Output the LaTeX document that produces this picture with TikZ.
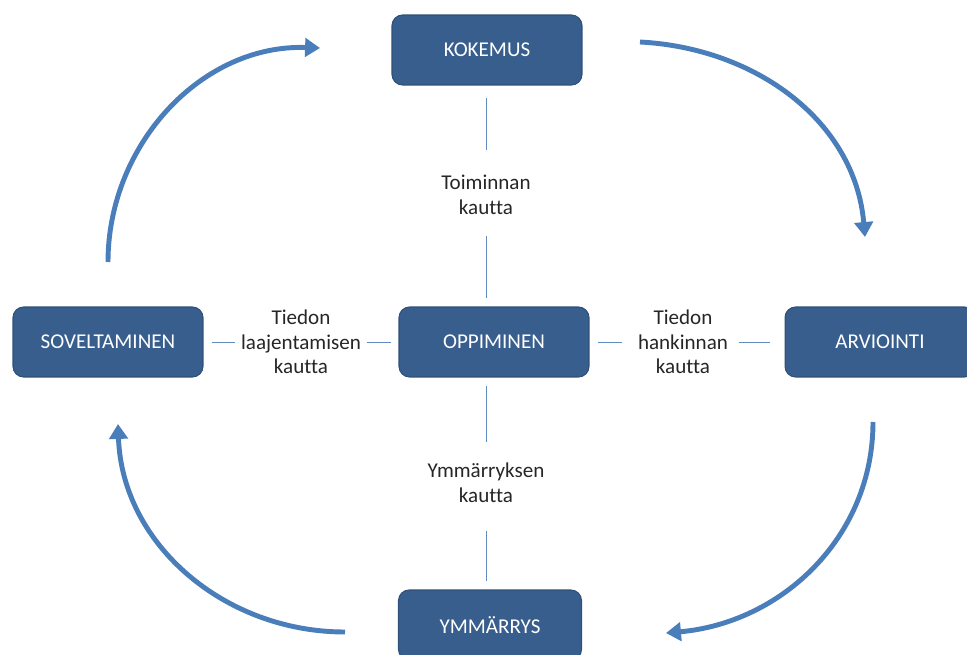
\documentclass[tikz,border=0pt]{standalone}
\usepackage{fontspec}
\setmainfont{Carlito}[Ligatures={NoCommon}]
\usetikzlibrary{arrows.meta, positioning}

\definecolor{boxblue}{HTML}{375E8D}
\definecolor{arrowblue}{HTML}{4A7EBB}
\definecolor{linkblue}{HTML}{5F8BC0}

\begin{document}
\begin{tikzpicture}[
    x=0.02cm, y=-0.02cm,
    font=\fontsize{12}{14}\selectfont,
    phase/.style={draw=boxblue!85!black, rectangle, rounded corners=6pt,
        minimum width=3.8cm, minimum height=1.4cm, fill=boxblue,
        text=white, line width=0.6pt},
    via/.style={align=center, text=black!85, inner sep=0pt},
    link/.style={draw=linkblue, line width=0.5pt},
    cycle/.style={draw=arrowblue, line width=2.8pt,
        -{Triangle[length=8.5pt,width=10.5pt]}},
]
\useasboundingbox (0,0) rectangle (967,655);

% === Phases ===
\node[phase] (kok) at (487, 50) {KOKEMUS};
\node[phase] (sov) at (108, 342) {SOVELTAMINEN};
\node[phase] (opp) at (494, 342) {OPPIMINEN};
\node[phase] (arv) at (880, 342) {ARVIOINTI};
\node[phase, minimum width=3.66cm] (ymm) at (490, 625) {YMMÄRRYS};

% === Ways of learning ===
\node[via] (toim) at (486, 195) {Toiminnan\\kautta};
\node[via] (laaj) at (301, 342) {Tiedon\\laajentamisen\\kautta};
\node[via] (hank) at (683, 342) {Tiedon\\hankinnan\\kautta};
\node[via] (ymmk) at (486, 483) {Ymmärryksen\\kautta};

\draw[link] ([yshift=-7pt]kok.south -| toim) -- ([yshift=14pt]toim.north);
\draw[link] ([yshift=-12pt]toim.south) -- ([yshift=5pt]opp.north -| toim);
\draw[link] ([yshift=-5pt]opp.south -| ymmk) -- ([yshift=12pt]ymmk.north);
\draw[link] ([yshift=-16pt]ymmk.south) -- ([yshift=5pt]ymm.north -| ymmk);
\draw[link] ([xshift=5pt]sov.east) -- ([xshift=-3pt]laaj.west);
\draw[link] ([xshift=3pt]laaj.east) -- ([xshift=-4pt]opp.west);
\draw[link] ([xshift=5pt]opp.east) -- ([xshift=-9pt]hank.west);
\draw[link] ([xshift=6pt]hank.east) -- ([xshift=-8.5pt]arv.west);

% === Cycle ===
\coordinate (c1) at (640, 42);
\coordinate (c2) at (865, 237);
\coordinate (c3) at (873, 422);
\coordinate (c4) at (666, 633);
\coordinate (c5) at (345, 632);
\coordinate (c6) at (118, 424);
\coordinate (c7) at (108, 262);
\coordinate (c8) at (320, 48);
\draw[cycle] (c1) to[out=-3, in=95] (c2);
\draw[cycle] (c3) to[out=-90, in=5] (c4);
\draw[cycle] (c5) to[out=180, in=-88] (c6);
\draw[cycle] (c7) to[out=90, in=178] (c8);

\end{tikzpicture}
\end{document}
